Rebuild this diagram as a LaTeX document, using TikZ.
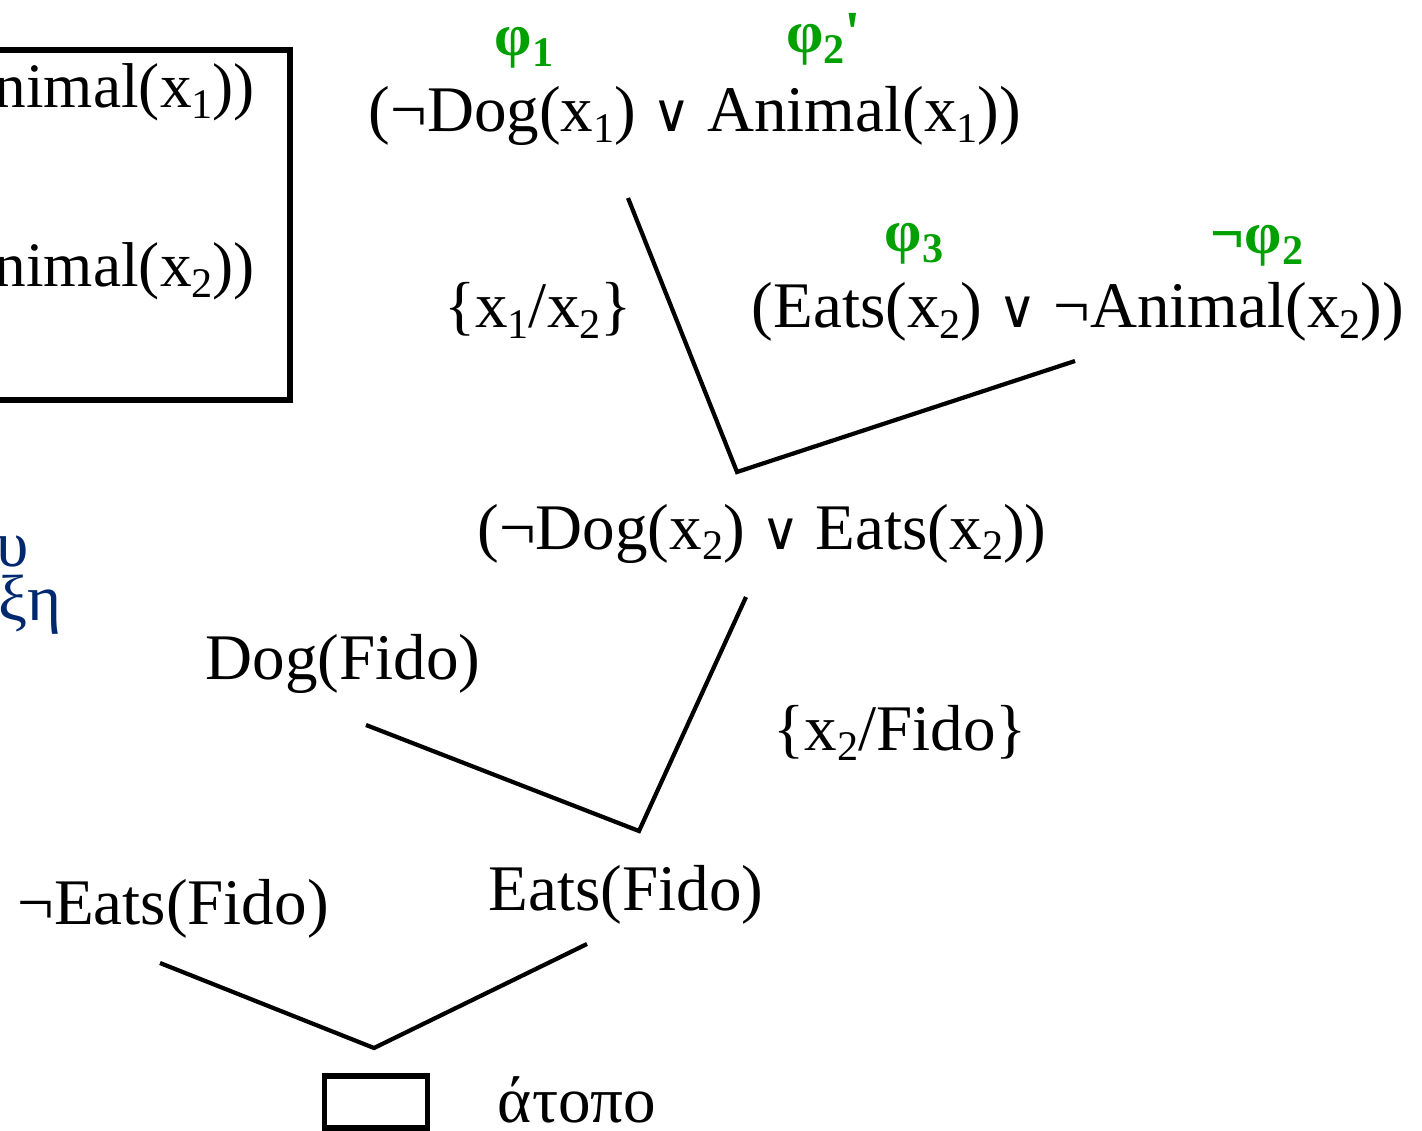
\documentclass[tikz,border=0pt]{standalone}
\usepackage{fontspec}
\setmainfont{Liberation Serif}
\newfontfamily\orfont{DejaVu Sans}
\usepackage{xcolor}
\usetikzlibrary{positioning}
\definecolor{phigreen}{RGB}{0,160,0}
\definecolor{notenavy}{RGB}{0,40,110}
\newcommand{\orv}{{\orfont\fontsize{15}{15}\selectfont ∨}}
\newcommand{\lowsub}[1]{\raisebox{-3pt}{\fontsize{12}{12}\selectfont #1}}
\newcommand{\ix}[1]{x\lowsub{#1}}

\begin{document}
\begin{tikzpicture}[x=0.01cm,y=-0.01cm,line width=1.2pt,
  cl/.style={inner sep=0pt,font=\fontsize{18.5}{20}\selectfont},
  phi/.style={inner sep=0pt,text=phigreen,font=\bfseries\fontsize{17}{18}\selectfont},
  note/.style={inner sep=0pt,text=notenavy,font=\fontsize{18.5}{20}\selectfont}]
  \useasboundingbox (0,0) rectangle (1422,1131);
  \clip (0,0) rectangle (1422,1131);
  % left box, cut by the frame
  \draw[line width=1.5pt] (290,50) rectangle (-400,400);
  \node[cl,anchor=base east,font=\fontsize{18}{20}\selectfont] (boxa) at (257,108) {Animal(\ix1))};
  \node[cl,anchor=base east,font=\fontsize{18}{20}\selectfont] (boxb) at (257,287) {Animal(\ix2))};
  \node[note,anchor=base east] (notea) at (31,566) {υ};
  \node[note,anchor=base east] (noteb) at (64,620) {ξη};
  % clauses
  \node[cl,anchor=base] (c1) at (695,132) {(¬Dog(\ix1) \orv{} Animal(\ix1))};
  \node[phi,anchor=base] (p1) at (524,56) {φ\lowsub{1}};
  \node[phi,anchor=base] (p2) at (824,53) {φ\lowsub{2}\textquotesingle};
  \node[cl,anchor=base] (c2) at (1078,328) {(Eats(\ix2) \orv{} ¬Animal(\ix2))};
  \node[phi,anchor=base] (p3) at (914,252) {φ\lowsub{3}};
  \node[phi,anchor=base] (np2) at (1257,254) {¬φ\lowsub{2}};
  \node[cl,anchor=base] (s1) at (538,328) {\{\ix1/\ix2\}};
  \node[cl,anchor=base] (c3) at (762,549) {(¬Dog(\ix2) \orv{} Eats(\ix2))};
  \node[cl,anchor=base] (dog) at (343,679) {Dog(Fido)};
  \node[cl,anchor=base] (s2) at (900,750) {\{\ix2/Fido\}};
  \node[cl,anchor=base] (neats) at (173,924) {¬Eats(Fido)};
  \node[cl,anchor=base] (eats) at (626,910) {Eats(Fido)};
  \node[draw,line width=1.5pt,minimum width=1.03cm,minimum height=0.52cm,inner sep=0pt] (nil) at (376,1102) {};
  \node[cl,anchor=base] (nilt) at (577,1122) {άτοπο};
  % resolution joins
  \coordinate (j1) at (737,472);
  \coordinate (j2) at (639,831);
  \coordinate (j3) at (374,1048);
  \draw (628,198) -- (j1) -- (1075,361);
  \draw (366,725) -- (j2) -- (746,597);
  \draw (160,963) -- (j3) -- (587,944);
\end{tikzpicture}
\end{document}
